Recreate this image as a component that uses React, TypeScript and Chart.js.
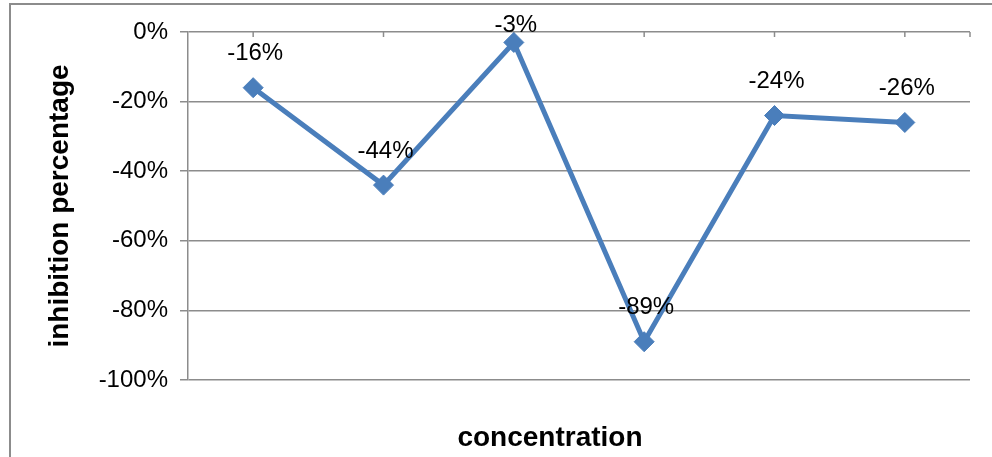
import React, { useEffect, useRef } from "react";
import { Chart, registerables } from "chart.js";

Chart.register(...registerables);

// Six concentrations (no category names shown on the axis)
const categories: string[] = ["1", "2", "3", "4", "5", "6"];
// Inhibition percentage at each concentration
const inhibition: number[] = [-16, -44, -3, -89, -24, -26];
// Value axis range and step (percent)
const yMin = -100;
const yMax = 0;
const yStep = 20;

const FONT = "'Liberation Sans', Arial, sans-serif";
const GRID = "#8c8c8c";
const LINE = "#4a7ebb";

// Outer frame, tick marks on the top axis, point labels and the x title
const decorations = {
  id: "decorations",
  beforeDraw(chart: any) {
    const { ctx, width, height } = chart;
    ctx.save();
    ctx.fillStyle = "#ffffff";
    ctx.fillRect(0, 0, width, height);
    ctx.strokeStyle = GRID;
    ctx.lineWidth = 2;
    ctx.strokeRect(10, 4, width + 20, height + 20);
    ctx.restore();
  },
  beforeDatasetsDraw(chart: any) {
    const { ctx, chartArea } = chart;
    const xs = chart.scales.x;
    ctx.save();
    ctx.strokeStyle = GRID;
    ctx.lineWidth = 1.5;
    const xsPos: number[] = categories.map((_, i) => xs.getPixelForValue(i));
    xsPos.push(chartArea.right);
    xsPos.forEach((x) => {
      ctx.beginPath();
      ctx.moveTo(x, chartArea.top);
      ctx.lineTo(x, chartArea.top + 5);
      ctx.stroke();
    });
    ctx.restore();
  },
  afterDatasetsDraw(chart: any) {
    const { ctx, chartArea } = chart;
    const meta = chart.getDatasetMeta(0);
    ctx.save();
    ctx.fillStyle = "#000000";
    ctx.font = `24px ${FONT}`;
    ctx.textAlign = "center";
    ctx.textBaseline = "middle";
    meta.data.forEach((pt: any, i: number) => {
      // labels sit above their points but stay below the frame's top edge
      const y = Math.max(pt.y - 34, 25);
      ctx.fillText(`${inhibition[i]}%`, pt.x + 2, y);
    });
    ctx.font = `bold 28px ${FONT}`;
    ctx.fillText("concentration", 550, chartArea.bottom + 58);
    ctx.restore();
  },
};

export default function App() {
  const ref = useRef<HTMLCanvasElement | null>(null);

  useEffect(() => {
    if (!ref.current) return;
    const chart = new Chart(ref.current, {
      type: "line",
      data: {
        labels: categories,
        datasets: [
          {
            data: inhibition,
            borderColor: LINE,
            backgroundColor: LINE,
            borderWidth: 5,
            pointStyle: "rectRot",
            pointRadius: 10,
            pointBorderWidth: 1,
            pointBorderColor: LINE,
            pointBackgroundColor: LINE,
            tension: 0,
          },
        ],
      },
      options: {
        animation: false,
        responsive: true,
        maintainAspectRatio: false,
        layout: { padding: { top: 32, right: 22, bottom: 77, left: 0 } },
        plugins: {
          legend: { display: false },
          tooltip: { enabled: false },
        },
        scales: {
          x: {
            display: false,
            offset: true,
          },
          y: {
            min: yMin,
            max: yMax,
            afterFit(scale: any) {
              scale.width = 188;
            },
            ticks: {
              stepSize: yStep,
              color: "#000000",
              padding: 12,
              font: { family: FONT, size: 24 },
              callback: (v: any) => `${v}%`,
            },
            grid: {
              color: GRID,
              lineWidth: 1.5,
              tickLength: 8,
              tickColor: GRID,
            },
            border: { color: GRID, width: 1.5 },
            title: {
              display: true,
              text: "inhibition percentage",
              color: "#000000",
              font: { family: FONT, size: 28, weight: "bold" },
              padding: { top: 43, bottom: 0 },
            },
          },
        },
      },
      plugins: [decorations],
    });
    return () => chart.destroy();
  }, []);

  return (
    <div style={{ position: "fixed", left: 0, top: 0, width: 992, height: 457 }}>
      <canvas ref={ref} />
    </div>
  );
}
